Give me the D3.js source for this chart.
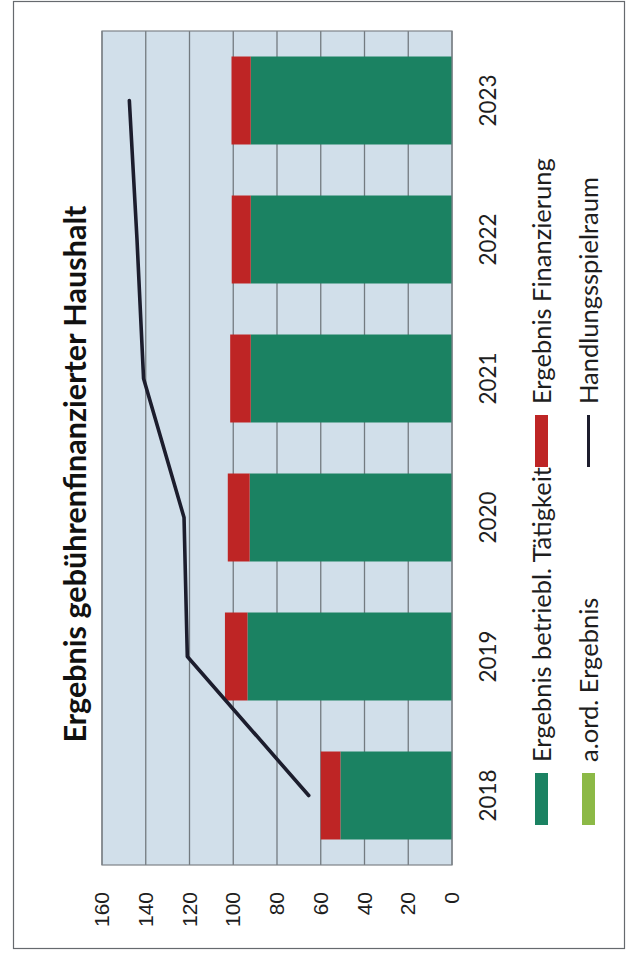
<!DOCTYPE html>
<html>
<head>
<meta charset="utf-8">
<script src="https://cdn.jsdelivr.net/npm/d3@7"></script>
<style>
  html, body { margin: 0; padding: 0; background: #ffffff; }
  svg { display: block; }
</style>
</head>
<body>
<svg id="chart" width="630" height="955"></svg>
<script>
// Stacked column chart with a line overlay, laid out landscape and turned a quarter turn.
const years = ["2018", "2019", "2020", "2021", "2022", "2023"];
const betriebValues = [51, 93.5, 92.5, 92, 92, 92];      // Ergebnis betriebl. Tätigkeit
const finanzValues = [9, 10.3, 10, 9.4, 8.7, 8.8];        // Ergebnis Finanzierung
const aordValues = [0, 0, 0, 0, 0, 0];                    // a.ord. Ergebnis
const spielraumValues = [65.5, 121, 122.5, 141, 144, 147.5]; // Handlungsspielraum
const valueTicks = [0, 20, 40, 60, 80, 100, 120, 140, 160];
const seriesNames = ["Ergebnis betriebl. Tätigkeit", "Ergebnis Finanzierung", "a.ord. Ergebnis", "Handlungsspielraum"];
const titleText = "Ergebnis gebührenfinanzierter Haushalt";

const colors = {
  betrieb: "#1b8262",
  finanz: "#be2525",
  aord: "#8cb946",
  line: "#1c1d2d",
  plotBg: "#d1dfea",
  grid: "#737a80"
};

const svg = d3.select("#chart");
// Landscape canvas 955 x 630, rotated so it reads bottom-to-top.
const W = 955, H = 630;
const g = svg.append("g").attr("transform", `translate(0,${W}) rotate(-90)`);

// Outer chart frame
g.append("rect")
  .attr("x", 6.5).attr("y", 13.5)
  .attr("width", 947).attr("height", 611)
  .attr("fill", "#ffffff")
  .attr("stroke", "#666a6e").attr("stroke-width", 1.2);

const plot = { left: 90, right: 924, top: 102, bottom: 452 };

const x = d3.scaleBand()
  .domain(years)
  .range([plot.left, plot.right])
  .paddingInner(0.367)
  .paddingOuter(0.1835);

const y = d3.scaleLinear()
  .domain([0, 160])
  .range([plot.bottom, plot.top]);

// Plot background
g.append("rect")
  .attr("x", plot.left).attr("y", plot.top)
  .attr("width", plot.right - plot.left).attr("height", plot.bottom - plot.top)
  .attr("fill", colors.plotBg);

// Horizontal gridlines
g.append("g")
  .selectAll("line")
  .data(valueTicks)
  .join("line")
  .attr("x1", plot.left).attr("x2", plot.right)
  .attr("y1", d => y(d)).attr("y2", d => y(d))
  .attr("stroke", colors.grid).attr("stroke-width", 1.3);

// Stacked bars
const rows = years.map((yr, i) => ({
  year: yr,
  betrieb: betriebValues[i],
  finanz: finanzValues[i],
  aord: aordValues[i]
}));
const stack = d3.stack().keys(["betrieb", "finanz", "aord"]);
const stacked = stack(rows);

g.append("g")
  .selectAll("g")
  .data(stacked)
  .join("g")
  .attr("fill", d => colors[d.key])
  .selectAll("rect")
  .data(d => d)
  .join("rect")
  .attr("x", d => x(d.data.year))
  .attr("width", x.bandwidth())
  .attr("y", d => y(d[1]))
  .attr("height", d => Math.max(0, y(d[0]) - y(d[1])));

// Plot border
g.append("rect")
  .attr("x", plot.left).attr("y", plot.top)
  .attr("width", plot.right - plot.left).attr("height", plot.bottom - plot.top)
  .attr("fill", "none")
  .attr("stroke", "#7d8388").attr("stroke-width", 1.2);

// Line series
const line = d3.line()
  .x((d, i) => x(years[i]) + x.bandwidth() / 2)
  .y(d => y(d));

g.append("path")
  .datum(spielraumValues)
  .attr("d", line)
  .attr("fill", "none")
  .attr("stroke", colors.line)
  .attr("stroke-width", 3.6)
  .attr("stroke-linejoin", "round")
  .attr("stroke-linecap", "round");

// Value axis
const yAxis = g.append("g")
  .attr("transform", `translate(${plot.left},0)`)
  .call(d3.axisLeft(y).tickValues(valueTicks).tickSize(0).tickPadding(27).tickFormat(d3.format("d")));
yAxis.select(".domain").remove();
yAxis.selectAll("text")
  .attr("font-family", "'Liberation Sans', Arial, sans-serif")
  .attr("font-size", 21)
  .attr("fill", "#1e1e1e");

// Category axis
const xAxis = g.append("g")
  .attr("transform", `translate(0,${plot.bottom})`)
  .call(d3.axisBottom(x).tickSize(0).tickPadding(0));
xAxis.select(".domain").remove();
const catText = xAxis.selectAll("text")
  .attr("font-family", "Lato, 'Open Sans', sans-serif")
  .attr("font-size", 22)
  .attr("fill", "#1e1e1e")
  .attr("y", 36)
  .attr("dy", "0.36em");

// Scale a text selection so its first element spans the given length
function fitTo(sel, target) {
  const node = sel.node();
  const len = node.getComputedTextLength();
  const fs = parseFloat(sel.attr("font-size"));
  const size = fs * target / len;
  sel.attr("font-size", size);
  return size;
}
fitTo(catText, 52);

// Title
const title = g.append("text")
  .attr("x", 481)
  .attr("y", 75)
  .attr("dy", "0.36em")
  .attr("text-anchor", "middle")
  .attr("font-family", "Lato, 'Open Sans', sans-serif")
  .attr("font-weight", 700)
  .attr("font-size", 30)
  .attr("fill", "#111111")
  .text(titleText);
fitTo(title, 537);

// Legend: two rows, two columns
const legendItems = [
  { name: seriesNames[0], type: "rect", color: colors.betrieb, col: 0, row: 0 },
  { name: seriesNames[1], type: "rect", color: colors.finanz, col: 1, row: 0 },
  { name: seriesNames[2], type: "rect", color: colors.aord, col: 0, row: 1 },
  { name: seriesNames[3], type: "line", color: colors.line, col: 1, row: 1 }
];
const legendCols = [130, 488];
const legendRows = [541.5, 588.5];
const swatchLen = 52, swatchThick = 13, textGap = 11;

const legend = g.append("g");
const items = legend.selectAll("g")
  .data(legendItems)
  .join("g")
  .attr("transform", d => `translate(${legendCols[d.col]},${legendRows[d.row]})`);

items.filter(d => d.type === "rect")
  .append("rect")
  .attr("x", 0).attr("y", -swatchThick / 2)
  .attr("width", swatchLen).attr("height", swatchThick)
  .attr("fill", d => d.color);

items.filter(d => d.type === "line")
  .append("line")
  .attr("x1", 0).attr("x2", swatchLen)
  .attr("y1", 0).attr("y2", 0)
  .attr("stroke", d => d.color)
  .attr("stroke-width", 3);

const legendText = items.append("text")
  .attr("x", swatchLen + textGap)
  .attr("y", 0)
  .attr("dy", "0.36em")
  .attr("font-family", "Lato, 'Open Sans', sans-serif")
  .attr("font-size", 22)
  .attr("fill", "#1e1e1e")
  .text(d => d.name);
const legendSize = fitTo(legendText, 295);
legendText.attr("font-size", legendSize);
</script>
</body>
</html>
